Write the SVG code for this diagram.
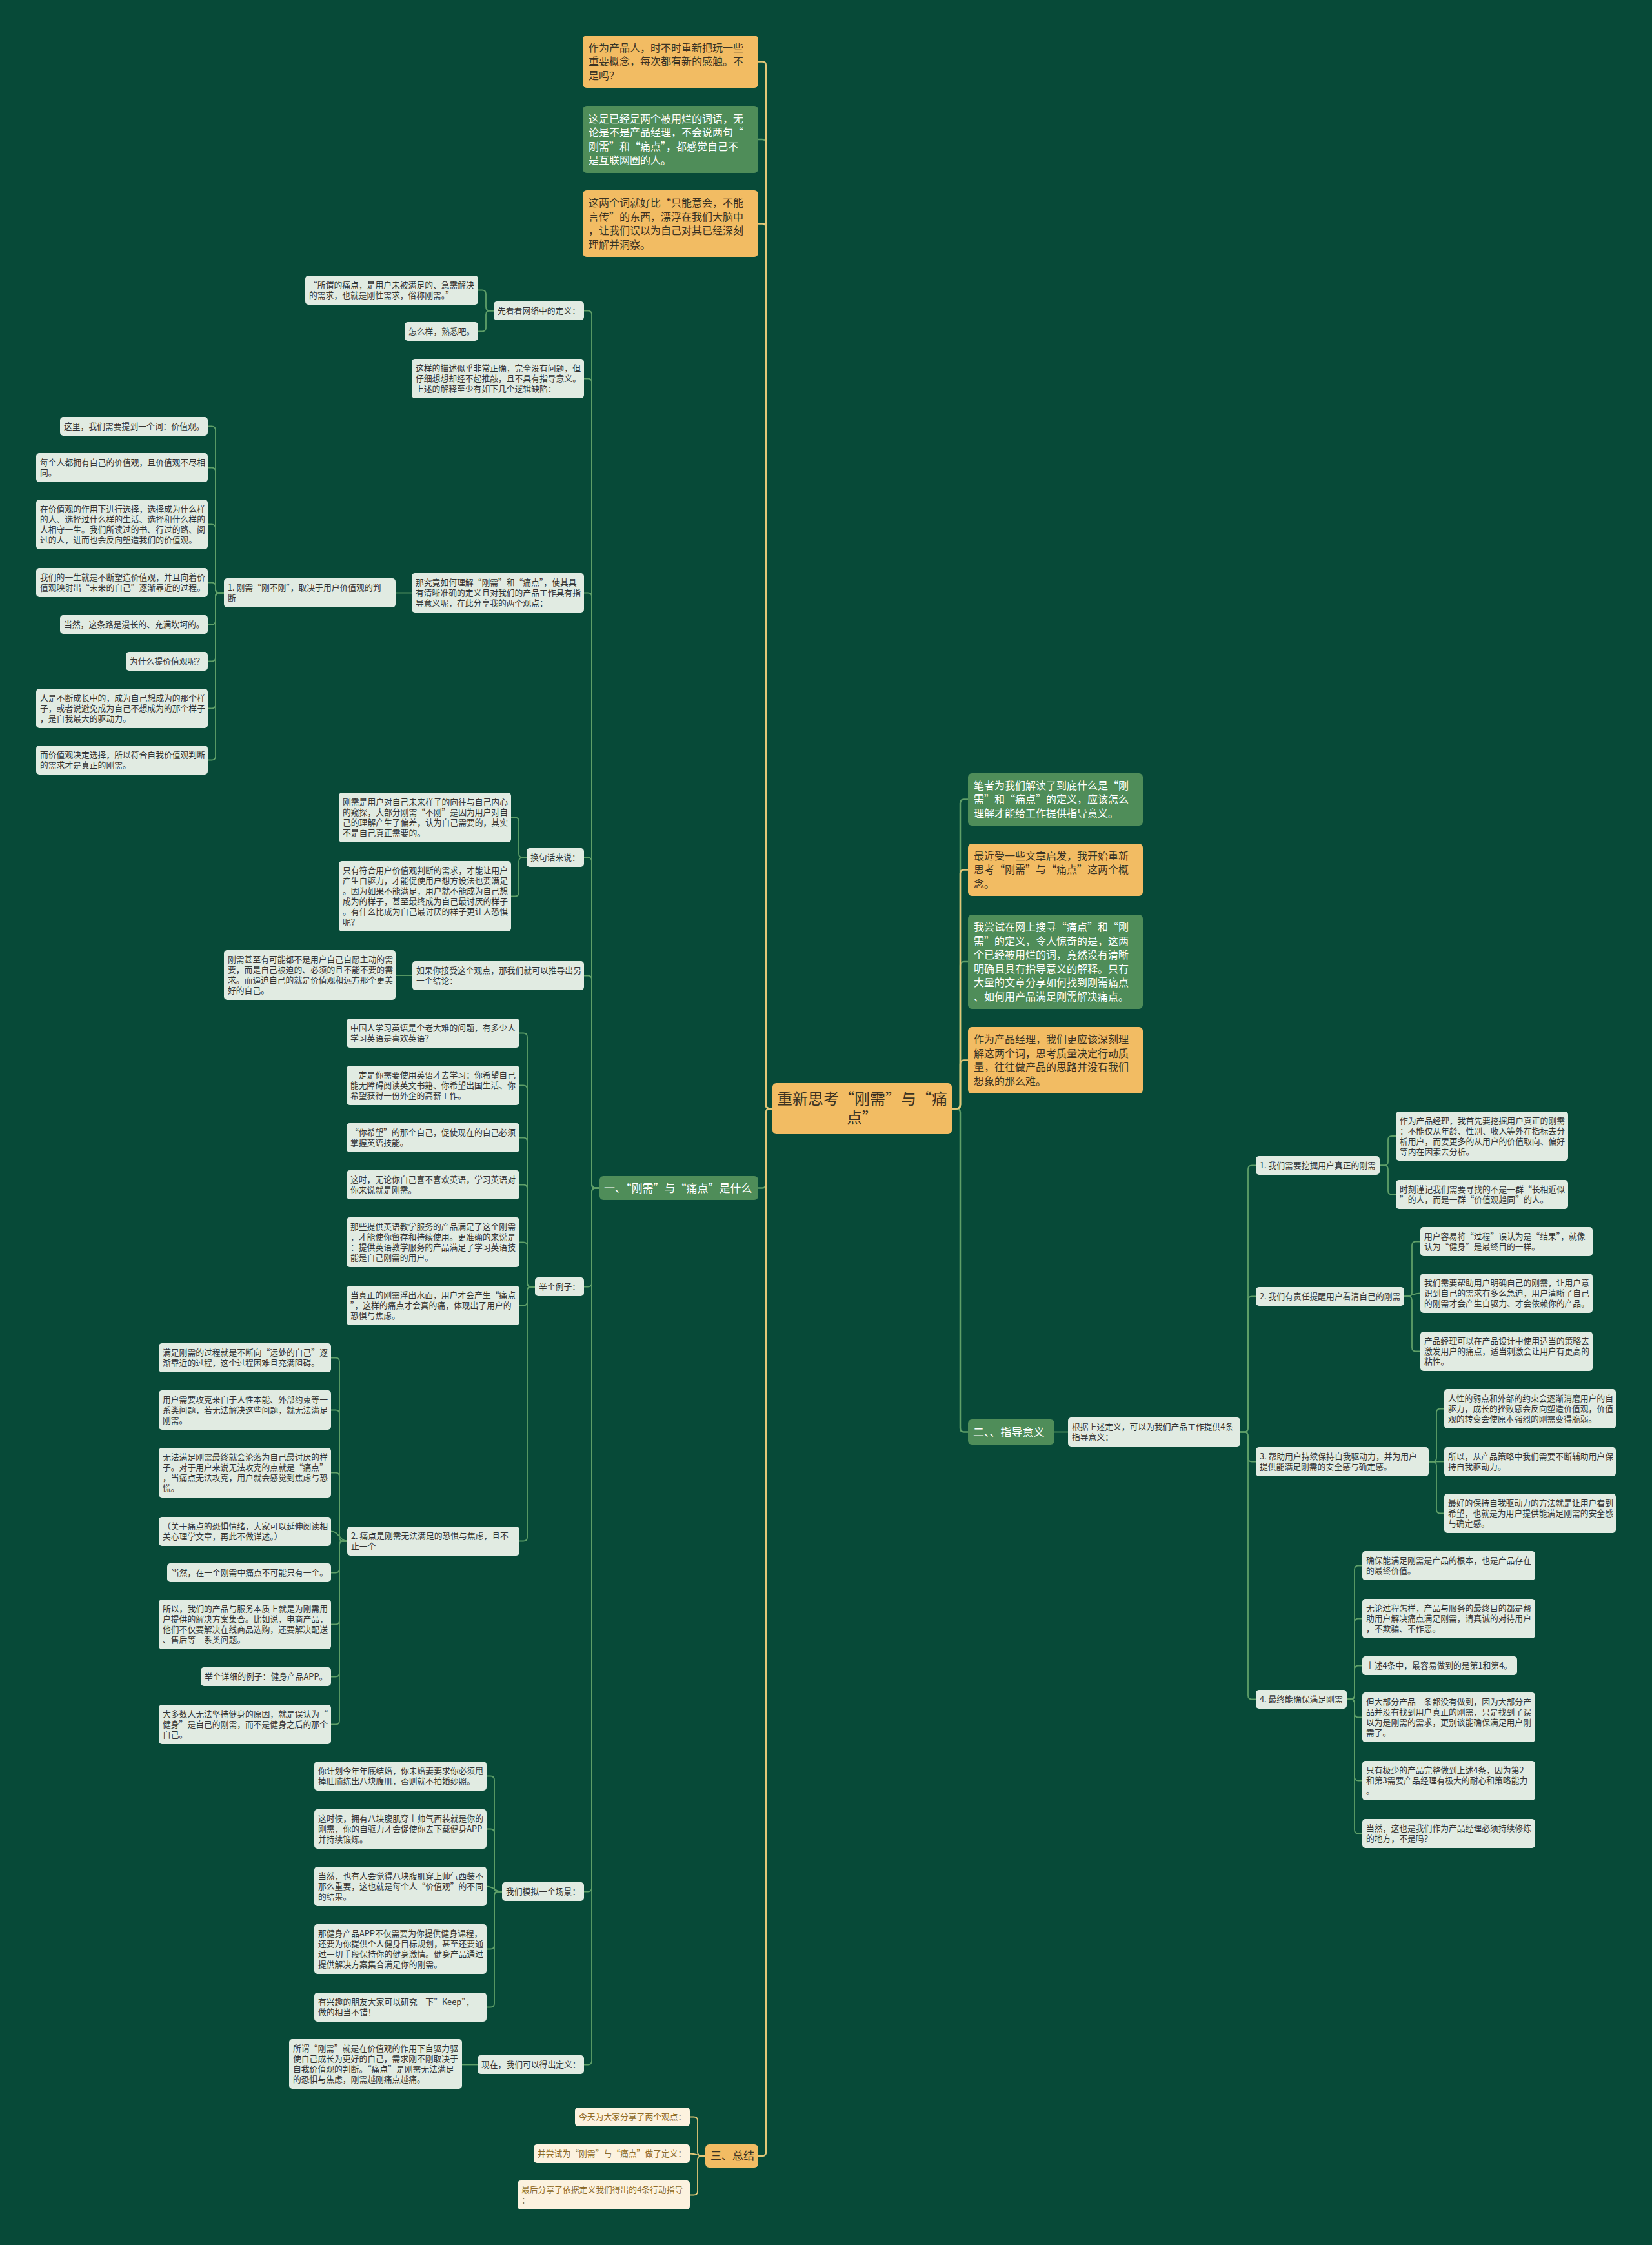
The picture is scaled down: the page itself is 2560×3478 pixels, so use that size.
<svg xmlns="http://www.w3.org/2000/svg" width="2560" height="3478" viewBox="0 0 2560 3478">
<style>
text{font-family:"Noto Sans CJK SC","Noto Sans",sans-serif}
.lt rect{fill:#e1ebe2}
.lt text{fill:#333;font-size:12.8px}
.gr rect{fill:#4f8d59}
.gr text{fill:#fff;font-size:16px}
.or rect{fill:#f2bc63}
.or text{fill:#3b3323;font-size:16px}
.cr rect{fill:#fcf2df}
.cr text{fill:#8e6a26;font-size:12.8px}
.l1 text{font-size:17px}
.ct text{font-size:24px}
.cg path{fill:none;stroke:#5f9f68;stroke-width:1.8}
.cy path{fill:none;stroke:#e2c777;stroke-width:1.8}
.main path{stroke-width:2.5}
</style>
<rect width="2560" height="3478" fill="#074a38"/>

<g id="connectors">
<g class="cg main">
<path d="M1197 1717.5 H1193 Q1187 1717.5 1187 1711.5 V222 Q1187 216 1181 216 H1175"/>
<path d="M1197 1717.5 H1193 Q1187 1717.5 1187 1723.5 V1834.5 Q1187 1840.5 1181 1840.5 H1175"/>
<path d="M1475 1717.5 H1482 Q1488 1717.5 1488 1711.5 V1244.5 Q1488 1238.5 1494 1238.5 H1500"/>
<path d="M1475 1717.5 H1482 Q1488 1717.5 1488 1711.5 V1496 Q1488 1490 1494 1490 H1500"/>
<path d="M1475 1717.5 H1482 Q1488 1717.5 1488 1723.5 V2212.5 Q1488 2218.5 1494 2218.5 H1500"/>
</g>
<g class="cy main">
<path d="M1197 1717.5 H1193 Q1187 1717.5 1187 1711.5 V101.5 Q1187 95.5 1181 95.5 H1175"/>
<path d="M1197 1717.5 H1193 Q1187 1717.5 1187 1711.5 V352.5 Q1187 346.5 1181 346.5 H1175"/>
<path d="M1197 1717.5 H1193 Q1187 1717.5 1187 1723.5 V3334 Q1187 3340 1181 3340 H1175"/>
<path d="M1475 1717.5 H1482 Q1488 1717.5 1488 1711.5 V1353.5 Q1488 1347.5 1494 1347.5 H1500"/>
<path d="M1475 1717.5 H1482 Q1488 1717.5 1488 1711.5 V1648.5 Q1488 1642.5 1494 1642.5 H1500"/>
</g>
<g class="cg">
<path d="M1634 2218.5 H1655"/>
<path d="M1922 2218.5 H1928 Q1934 2218.5 1934 2212.5 V1811.5 Q1934 1805.5 1940 1805.5 H1946"/>
<path d="M1922 2218.5 H1928 Q1934 2218.5 1934 2212.5 V2014.5 Q1934 2008.5 1940 2008.5 H1946"/>
<path d="M1922 2218.5 H1928 Q1934 2218.5 1934 2224.5 V2258.5 Q1934 2264.5 1940 2264.5 H1946"/>
<path d="M1922 2218.5 H1928 Q1934 2218.5 1934 2224.5 V2626.5 Q1934 2632.5 1940 2632.5 H1946"/>
<path d="M2138 1805.5 H2145 Q2151 1805.5 2151 1799.5 V1766 Q2151 1760 2157 1760 H2163"/>
<path d="M2138 1805.5 H2145 Q2151 1805.5 2151 1811.5 V1844.5 Q2151 1850.5 2157 1850.5 H2163"/>
<path d="M2176 2008.5 H2182 Q2188 2008.5 2188 2002.5 V1929.5 Q2188 1923.5 2194 1923.5 H2201"/>
<path d="M2176 2008.5 C2188 2008.5 2188 2003.5 2201 2003.5"/>
<path d="M2176 2008.5 H2182 Q2188 2008.5 2188 2014.5 V2087.5 Q2188 2093.5 2194 2093.5 H2201"/>
<path d="M2214 2264.5 H2220 Q2226 2264.5 2226 2258.5 V2188.5 Q2226 2182.5 2232 2182.5 H2238"/>
<path d="M2214 2264.5 H2238"/>
<path d="M2214 2264.5 H2220 Q2226 2264.5 2226 2270.5 V2338.5 Q2226 2344.5 2232 2344.5 H2238"/>
<path d="M2087 2632.5 H2093 Q2099 2632.5 2099 2626.5 V2431.5 Q2099 2425.5 2105 2425.5 H2111"/>
<path d="M2087 2632.5 H2093 Q2099 2632.5 2099 2626.5 V2513.5 Q2099 2507.5 2105 2507.5 H2111"/>
<path d="M2087 2632.5 H2093 Q2099 2632.5 2099 2626.5 V2586.5 Q2099 2580.5 2105 2580.5 H2111"/>
<path d="M2087 2632.5 H2093 Q2099 2632.5 2099 2638.5 V2654.5 Q2099 2660.5 2105 2660.5 H2111"/>
<path d="M2087 2632.5 H2093 Q2099 2632.5 2099 2638.5 V2752.5 Q2099 2758.5 2105 2758.5 H2111"/>
<path d="M2087 2632.5 H2093 Q2099 2632.5 2099 2638.5 V2834.5 Q2099 2840.5 2105 2840.5 H2111"/>

<path d="M929 1840.5 H923 Q917 1840.5 917 1834.5 V487.5 Q917 481.5 911 481.5 H905"/>
<path d="M929 1840.5 H923 Q917 1840.5 917 1834.5 V592.5 Q917 586.5 911 586.5 H905"/>
<path d="M929 1840.5 H923 Q917 1840.5 917 1834.5 V924.5 Q917 918.5 911 918.5 H905"/>
<path d="M929 1840.5 H923 Q917 1840.5 917 1834.5 V1334.5 Q917 1328.5 911 1328.5 H905"/>
<path d="M929 1840.5 H923 Q917 1840.5 917 1834.5 V1517.5 Q917 1511.5 911 1511.5 H905"/>
<path d="M929 1840.5 H923 Q917 1840.5 917 1846.5 V1987.5 Q917 1993.5 911 1993.5 H905"/>
<path d="M929 1840.5 H923 Q917 1840.5 917 1846.5 V2924.5 Q917 2930.5 911 2930.5 H905"/>
<path d="M929 1840.5 H923 Q917 1840.5 917 1846.5 V3192.5 Q917 3198.5 911 3198.5 H905"/>

<path d="M765 481.5 H759 Q753 481.5 753 475.5 V455.5 Q753 449.5 747 449.5 H741"/>
<path d="M765 481.5 H759 Q753 481.5 753 487.5 V507.5 Q753 513.5 747 513.5 H741"/>
<path d="M638 918.5 H613"/>
<path d="M347 918.5 H340 Q334 918.5 334 912.5 V666.5 Q334 660.5 328 660.5 H322"/>
<path d="M347 918.5 H340 Q334 918.5 334 912.5 V730.5 Q334 724.5 328 724.5 H322"/>
<path d="M347 918.5 H340 Q334 918.5 334 912.5 V818.5 Q334 812.5 328 812.5 H322"/>
<path d="M347 918.5 H340 Q334 918.5 334 912.5 V908.5 Q334 902.5 328 902.5 H322"/>
<path d="M347 918.5 H340 Q334 918.5 334 924.5 V961.5 Q334 967.5 328 967.5 H322"/>
<path d="M347 918.5 H340 Q334 918.5 334 924.5 V1018.5 Q334 1024.5 328 1024.5 H322"/>
<path d="M347 918.5 H340 Q334 918.5 334 924.5 V1091.5 Q334 1097.5 328 1097.5 H322"/>
<path d="M347 918.5 H340 Q334 918.5 334 924.5 V1171.5 Q334 1177.5 328 1177.5 H322"/>
<path d="M816 1328.5 H810 Q804 1328.5 804 1322.5 V1272.5 Q804 1266.5 798 1266.5 H792"/>
<path d="M816 1328.5 H810 Q804 1328.5 804 1334.5 V1382.5 Q804 1388.5 798 1388.5 H792"/>
<path d="M639 1511 H613"/>
<path d="M829 1993.5 H823 Q817 1993.5 817 1987.5 V1606.5 Q817 1600.5 811 1600.5 H805"/>
<path d="M829 1993.5 H823 Q817 1993.5 817 1987.5 V1687.5 Q817 1681.5 811 1681.5 H805"/>
<path d="M829 1993.5 H823 Q817 1993.5 817 1987.5 V1768.5 Q817 1762.5 811 1762.5 H805"/>
<path d="M829 1993.5 H823 Q817 1993.5 817 1987.5 V1841.5 Q817 1835.5 811 1835.5 H805"/>
<path d="M829 1993.5 H823 Q817 1993.5 817 1987.5 V1930.5 Q817 1924.5 811 1924.5 H805"/>
<path d="M829 1993.5 H823 Q817 1993.5 817 1999.5 V2016.5 Q817 2022.5 811 2022.5 H805"/>
<path d="M829 1993.5 H823 Q817 1993.5 817 1999.5 V2381.5 Q817 2387.5 811 2387.5 H805"/>
<path d="M538 2387.5 H532 Q526 2387.5 526 2381.5 V2109.5 Q526 2103.5 520 2103.5 H513"/>
<path d="M538 2387.5 H532 Q526 2387.5 526 2381.5 V2190.5 Q526 2184.5 520 2184.5 H513"/>
<path d="M538 2387.5 H532 Q526 2387.5 526 2381.5 V2287.5 Q526 2281.5 520 2281.5 H513"/>
<path d="M538 2387.5 C526 2387.5 526 2372.5 513 2372.5"/>
<path d="M538 2387.5 H532 Q526 2387.5 526 2393.5 V2430.5 Q526 2436.5 520 2436.5 H513"/>
<path d="M538 2387.5 H532 Q526 2387.5 526 2393.5 V2510.5 Q526 2516.5 520 2516.5 H513"/>
<path d="M538 2387.5 H532 Q526 2387.5 526 2393.5 V2591.5 Q526 2597.5 520 2597.5 H513"/>
<path d="M538 2387.5 H532 Q526 2387.5 526 2393.5 V2665.5 Q526 2671.5 520 2671.5 H513"/>
<path d="M778 2930.5 H772 Q766 2930.5 766 2924.5 V2757.5 Q766 2751.5 760 2751.5 H754"/>
<path d="M778 2930.5 H772 Q766 2930.5 766 2924.5 V2839.5 Q766 2833.5 760 2833.5 H754"/>
<path d="M778 2930.5 C766 2930.5 766 2922.5 754 2922.5"/>
<path d="M778 2930.5 H772 Q766 2930.5 766 2936.5 V3013.5 Q766 3019.5 760 3019.5 H754"/>
<path d="M778 2930.5 H772 Q766 2930.5 766 2936.5 V3103.5 Q766 3109.5 760 3109.5 H754"/>
<path d="M740 3198.5 H716"/>
</g>
<g class="cy">
<path d="M1093 3340 H1087 Q1081 3340 1081 3334 V3285.5 Q1081 3279.5 1075 3279.5 H1069"/>
<path d="M1093 3340 C1081 3340 1081 3336.5 1069 3336.5"/>
<path d="M1093 3340 H1087 Q1081 3340 1081 3346 V3394.5 Q1081 3400.5 1075 3400.5 H1069"/>
</g>
</g>

<g id="center" class="or ct"><rect x="1197" y="1678" width="278" height="79" rx="6"/><text text-anchor="middle"><tspan x="1336" y="1711">重新思考“刚需”与“痛</tspan><tspan x="1336" y="1740">点”</tspan></text></g>

<g id="a1" class="or"><rect x="903" y="55" width="272" height="81" rx="6"/><text><tspan x="912" y="79.8">作为产品人，时不时重新把玩一些</tspan><tspan x="912" y="101.3">重要概念，每次都有新的感触。不</tspan><tspan x="912" y="122.8">是吗？</tspan></text></g>
<g id="a2" class="gr"><rect x="903" y="164" width="272" height="104" rx="6"/><text><tspan x="912" y="189.6">这是已经是两个被用烂的词语，无</tspan><tspan x="912" y="211.1">论是不是产品经理，不会说两句“</tspan><tspan x="912" y="232.6">刚需”和“痛点”，都感觉自己不</tspan><tspan x="912" y="254.1">是互联网圈的人。</tspan></text></g>
<g id="a3" class="or"><rect x="903" y="295" width="272" height="103" rx="6"/><text><tspan x="912" y="320.1">这两个词就好比“只能意会，不能</tspan><tspan x="912" y="341.6">言传”的东西，漂浮在我们大脑中</tspan><tspan x="912" y="363.1">，让我们误以为自己对其已经深刻</tspan><tspan x="912" y="384.6">理解并洞察。</tspan></text></g>

<g id="r1" class="gr"><rect x="1500" y="1198" width="271" height="81" rx="6"/><text><tspan x="1509" y="1222.8">笔者为我们解读了到底什么是“刚</tspan><tspan x="1509" y="1244.3">需”和“痛点”的定义，应该怎么</tspan><tspan x="1509" y="1265.8">理解才能给工作提供指导意义。</tspan></text></g>
<g id="r2" class="or"><rect x="1500" y="1307" width="271" height="81" rx="6"/><text><tspan x="1509" y="1331.8">最近受一些文章启发，我开始重新</tspan><tspan x="1509" y="1353.3">思考“刚需”与“痛点”这两个概</tspan><tspan x="1509" y="1374.8">念。</tspan></text></g>
<g id="r3" class="gr"><rect x="1500" y="1417" width="271" height="146" rx="6"/><text><tspan x="1509" y="1442">我尝试在网上搜寻“痛点”和“刚</tspan><tspan x="1509" y="1463.5">需”的定义，令人惊奇的是，这两</tspan><tspan x="1509" y="1485">个已经被用烂的词，竟然没有清晰</tspan><tspan x="1509" y="1506.5">明确且具有指导意义的解释。只有</tspan><tspan x="1509" y="1528">大量的文章分享如何找到刚需痛点</tspan><tspan x="1509" y="1549.5">、如何用产品满足刚需解决痛点。</tspan></text></g>
<g id="r4" class="or"><rect x="1500" y="1591" width="271" height="103" rx="6"/><text><tspan x="1509" y="1616.1">作为产品经理，我们更应该深刻理</tspan><tspan x="1509" y="1637.6">解这两个词，思考质量决定行动质</tspan><tspan x="1509" y="1659.1">量，往往做产品的思路并没有我们</tspan><tspan x="1509" y="1680.6">想象的那么难。</tspan></text></g>

<g id="s2" class="gr l1"><rect x="1500" y="2199" width="134" height="39" rx="6"/><text x="1508" y="2224.5">二、、指导意义</text></g>
<g id="s2a" class="lt"><rect x="1655" y="2196" width="267" height="45" rx="5"/><text><tspan x="1661" y="2215.1">根据上述定义，可以为我们产品工作提供4条</tspan><tspan x="1661" y="2231.1">指导意义：</tspan></text></g>
<g id="g1" class="lt"><rect x="1946" y="1791" width="192" height="29" rx="5"/><text x="1952" y="1810.1">1. 我们需要挖掘用户真正的刚需</text></g>
<g id="g1a" class="lt"><rect x="2163" y="1722" width="267" height="76" rx="5"/><text><tspan x="2169" y="1740.6">作为产品经理，我首先要挖掘用户真正的刚需</tspan><tspan x="2169" y="1756.6">：不能仅从年龄、性别、收入等外在指标去分</tspan><tspan x="2169" y="1772.6">析用户，而要更多的从用户的价值取向、偏好</tspan><tspan x="2169" y="1788.6">等内在因素去分析。</tspan></text></g>
<g id="g1b" class="lt"><rect x="2163" y="1828" width="267" height="45" rx="5"/><text><tspan x="2169" y="1847.1">时刻谨记我们需要寻找的不是一群“长相近似</tspan><tspan x="2169" y="1863.1">”的人，而是一群“价值观趋同”的人。</tspan></text></g>
<g id="g2" class="lt"><rect x="1946" y="1994" width="230" height="29" rx="5"/><text x="1952" y="2013.1">2. 我们有责任提醒用户看清自己的刚需</text></g>
<g id="g2a" class="lt"><rect x="2201" y="1901" width="267" height="45" rx="5"/><text><tspan x="2207" y="1920.1">用户容易将“过程”误认为是“结果”，就像</tspan><tspan x="2207" y="1936.1">认为“健身”是最终目的一样。</tspan></text></g>
<g id="g2b" class="lt"><rect x="2201" y="1973" width="267" height="61" rx="5"/><text><tspan x="2207" y="1992.1">我们需要帮助用户明确自己的刚需，让用户意</tspan><tspan x="2207" y="2008.1">识到自己的需求有多么急迫，用户清晰了自己</tspan><tspan x="2207" y="2024.1">的刚需才会产生自驱力、才会依赖你的产品。</tspan></text></g>
<g id="g2c" class="lt"><rect x="2201" y="2063" width="267" height="61" rx="5"/><text><tspan x="2207" y="2082.1">产品经理可以在产品设计中使用适当的策略去</tspan><tspan x="2207" y="2098.1">激发用户的痛点，适当刺激会让用户有更高的</tspan><tspan x="2207" y="2114.1">粘性。</tspan></text></g>
<g id="g3" class="lt"><rect x="1946" y="2242" width="268" height="45" rx="5"/><text><tspan x="1952" y="2261.1">3. 帮助用户持续保持自我驱动力，并为用户</tspan><tspan x="1952" y="2277.1">提供能满足刚需的安全感与确定感。</tspan></text></g>
<g id="g3a" class="lt"><rect x="2238" y="2152" width="266" height="61" rx="5"/><text><tspan x="2244" y="2171.1">人性的弱点和外部的约束会逐渐消磨用户的自</tspan><tspan x="2244" y="2187.1">驱力，成长的挫败感会反向塑造价值观，价值</tspan><tspan x="2244" y="2203.1">观的转变会使原本强烈的刚需变得脆弱。</tspan></text></g>
<g id="g3b" class="lt"><rect x="2238" y="2242" width="266" height="45" rx="5"/><text><tspan x="2244" y="2261.1">所以，从产品策略中我们需要不断辅助用户保</tspan><tspan x="2244" y="2277.1">持自我驱动力。</tspan></text></g>
<g id="g3c" class="lt"><rect x="2238" y="2314" width="266" height="61" rx="5"/><text><tspan x="2244" y="2333.1">最好的保持自我驱动力的方法就是让用户看到</tspan><tspan x="2244" y="2349.1">希望，也就是为用户提供能满足刚需的安全感</tspan><tspan x="2244" y="2365.1">与确定感。</tspan></text></g>
<g id="g4" class="lt"><rect x="1946" y="2618" width="141" height="29" rx="5"/><text x="1952" y="2637.1">4. 最终能确保满足刚需</text></g>
<g id="g4a" class="lt"><rect x="2111" y="2403" width="268" height="45" rx="5"/><text><tspan x="2117" y="2422.1">确保能满足刚需是产品的根本，也是产品存在</tspan><tspan x="2117" y="2438.1">的最终价值。</tspan></text></g>
<g id="g4b" class="lt"><rect x="2111" y="2477" width="268" height="61" rx="5"/><text><tspan x="2117" y="2496.1">无论过程怎样，产品与服务的最终目的都是帮</tspan><tspan x="2117" y="2512.1">助用户解决痛点满足刚需，请真诚的对待用户</tspan><tspan x="2117" y="2528.1">，不欺骗、不作恶。</tspan></text></g>
<g id="g4c" class="lt"><rect x="2111" y="2566" width="240" height="29" rx="5"/><text x="2117" y="2585.1">上述4条中，最容易做到的是第1和第4。</text></g>
<g id="g4d" class="lt"><rect x="2111" y="2622" width="268" height="77" rx="5"/><text><tspan x="2117" y="2641.1">但大部分产品一条都没有做到，因为大部分产</tspan><tspan x="2117" y="2657.1">品并没有找到用户真正的刚需，只是找到了误</tspan><tspan x="2117" y="2673.1">以为是刚需的需求，更别谈能确保满足用户刚</tspan><tspan x="2117" y="2689.1">需了。</tspan></text></g>
<g id="g4e" class="lt"><rect x="2111" y="2728" width="268" height="61" rx="5"/><text><tspan x="2117" y="2747.1">只有极少的产品完整做到上述4条，因为第2</tspan><tspan x="2117" y="2763.1">和第3需要产品经理有极大的耐心和策略能力</tspan><tspan x="2117" y="2779.1">。</tspan></text></g>
<g id="g4f" class="lt"><rect x="2111" y="2818" width="268" height="45" rx="5"/><text><tspan x="2117" y="2837.1">当然，这也是我们作为产品经理必须持续修炼</tspan><tspan x="2117" y="2853.1">的地方，不是吗？</tspan></text></g>

<g id="s1" class="gr l1"><rect x="929" y="1822" width="246" height="37" rx="6"/><text x="936" y="1846.5">一、“刚需”与“痛点”是什么</text></g>
<g id="d1" class="lt"><rect x="765" y="467" width="140" height="29" rx="5"/><text x="771" y="486.1">先看看网络中的定义：</text></g>
<g id="d1a" class="lt"><rect x="473" y="427" width="268" height="45" rx="5"/><text><tspan x="479" y="446.1">“所谓的痛点，是用户未被满足的、急需解决</tspan><tspan x="479" y="462.1">的需求，也就是刚性需求，俗称刚需。”</tspan></text></g>
<g id="d1b" class="lt"><rect x="627" y="499" width="114" height="29" rx="5"/><text x="633" y="518.1">怎么样，熟悉吧。</text></g>
<g id="d2" class="lt"><rect x="638" y="556" width="267" height="61" rx="5"/><text><tspan x="644" y="575.1">这样的描述似乎非常正确，完全没有问题，但</tspan><tspan x="644" y="591.1">仔细想想却经不起推敲，且不具有指导意义。</tspan><tspan x="644" y="607.1">上述的解释至少有如下几个逻辑缺陷：</tspan></text></g>
<g id="d3" class="lt"><rect x="638" y="888" width="267" height="61" rx="5"/><text><tspan x="644" y="907.1">那究竟如何理解“刚需”和“痛点”，使其具</tspan><tspan x="644" y="923.1">有清晰准确的定义且对我们的产品工作具有指</tspan><tspan x="644" y="939.1">导意义呢，在此分享我的两个观点：</tspan></text></g>
<g id="p1" class="lt"><rect x="347" y="896" width="266" height="45" rx="5"/><text><tspan x="353" y="915.1">1. 刚需“刚不刚”，取决于用户价值观的判</tspan><tspan x="353" y="931.1">断</tspan></text></g>
<g id="p1a" class="lt"><rect x="93" y="646" width="229" height="29" rx="5"/><text x="99" y="665.1">这里，我们需要提到一个词：价值观。</text></g>
<g id="p1b" class="lt"><rect x="56" y="702" width="266" height="45" rx="5"/><text><tspan x="62" y="721.1">每个人都拥有自己的价值观，且价值观不尽相</tspan><tspan x="62" y="737.1">同。</tspan></text></g>
<g id="p1c" class="lt"><rect x="56" y="774" width="266" height="77" rx="5"/><text><tspan x="62" y="793.1">在价值观的作用下进行选择，选择成为什么样</tspan><tspan x="62" y="809.1">的人、选择过什么样的生活、选择和什么样的</tspan><tspan x="62" y="825.1">人相守一生。我们所读过的书、行过的路、阅</tspan><tspan x="62" y="841.1">过的人，进而也会反向塑造我们的价值观。</tspan></text></g>
<g id="p1d" class="lt"><rect x="56" y="880" width="266" height="45" rx="5"/><text><tspan x="62" y="899.1">我们的一生就是不断塑造价值观，并且向着价</tspan><tspan x="62" y="915.1">值观映射出“未来的自己”逐渐靠近的过程。</tspan></text></g>
<g id="p1e" class="lt"><rect x="93" y="953" width="229" height="29" rx="5"/><text x="99" y="972.1">当然，这条路是漫长的、充满坎坷的。</text></g>
<g id="p1f" class="lt"><rect x="195" y="1010" width="127" height="29" rx="5"/><text x="201" y="1029.1">为什么提价值观呢？</text></g>
<g id="p1g" class="lt"><rect x="56" y="1067" width="266" height="61" rx="5"/><text><tspan x="62" y="1086.1">人是不断成长中的，成为自己想成为的那个样</tspan><tspan x="62" y="1102.1">子，或者说避免成为自己不想成为的那个样子</tspan><tspan x="62" y="1118.1">，是自我最大的驱动力。</tspan></text></g>
<g id="p1h" class="lt"><rect x="56" y="1155" width="266" height="45" rx="5"/><text><tspan x="62" y="1174.1">而价值观决定选择，所以符合自我价值观判断</tspan><tspan x="62" y="1190.1">的需求才是真正的刚需。</tspan></text></g>
<g id="d4" class="lt"><rect x="816" y="1314" width="89" height="29" rx="5"/><text x="822" y="1333.1">换句话来说：</text></g>
<g id="d4a" class="lt"><rect x="525" y="1228" width="267" height="77" rx="5"/><text><tspan x="531" y="1247.1">刚需是用户对自己未来样子的向往与自己内心</tspan><tspan x="531" y="1263.1">的窥探，大部分刚需“不刚”是因为用户对自</tspan><tspan x="531" y="1279.1">己的理解产生了偏差，认为自己需要的，其实</tspan><tspan x="531" y="1295.1">不是自己真正需要的。</tspan></text></g>
<g id="d4b" class="lt"><rect x="525" y="1334" width="267" height="109" rx="5"/><text><tspan x="531" y="1353.1">只有符合用户价值观判断的需求，才能让用户</tspan><tspan x="531" y="1369.1">产生自驱力，才能促使用户想方设法也要满足</tspan><tspan x="531" y="1385.1">。因为如果不能满足，用户就不能成为自己想</tspan><tspan x="531" y="1401.1">成为的样子，甚至最终成为自己最讨厌的样子</tspan><tspan x="531" y="1417.1">。有什么比成为自己最讨厌的样子更让人恐惧</tspan><tspan x="531" y="1433.1">呢？</tspan></text></g>
<g id="d5" class="lt"><rect x="639" y="1489" width="266" height="45" rx="5"/><text><tspan x="645" y="1508.1">如果你接受这个观点，那我们就可以推导出另</tspan><tspan x="645" y="1524.1">一个结论：</tspan></text></g>
<g id="d5a" class="lt"><rect x="347" y="1472" width="266" height="77" rx="5"/><text><tspan x="353" y="1491.1">刚需甚至有可能都不是用户自己自愿主动的需</tspan><tspan x="353" y="1507.1">要，而是自己被迫的、必须的且不能不要的需</tspan><tspan x="353" y="1523.1">求。而逼迫自己的就是价值观和远方那个更美</tspan><tspan x="353" y="1539.1">好的自己。</tspan></text></g>
<g id="d6" class="lt"><rect x="829" y="1979" width="76" height="29" rx="5"/><text x="835" y="1998.1">举个例子：</text></g>
<g id="d6a" class="lt"><rect x="537" y="1578" width="268" height="45" rx="5"/><text><tspan x="543" y="1597.1">中国人学习英语是个老大难的问题，有多少人</tspan><tspan x="543" y="1613.1">学习英语是喜欢英语？</tspan></text></g>
<g id="d6b" class="lt"><rect x="537" y="1651" width="268" height="61" rx="5"/><text><tspan x="543" y="1670.1">一定是你需要使用英语才去学习：你希望自己</tspan><tspan x="543" y="1686.1">能无障碍阅读英文书籍、你希望出国生活、你</tspan><tspan x="543" y="1702.1">希望获得一份外企的高薪工作。</tspan></text></g>
<g id="d6c" class="lt"><rect x="537" y="1740" width="268" height="45" rx="5"/><text><tspan x="543" y="1759.1">“你希望”的那个自己，促使现在的自己必须</tspan><tspan x="543" y="1775.1">掌握英语技能。</tspan></text></g>
<g id="d6d" class="lt"><rect x="537" y="1813" width="268" height="45" rx="5"/><text><tspan x="543" y="1832.1">这时，无论你自己喜不喜欢英语，学习英语对</tspan><tspan x="543" y="1848.1">你来说就是刚需。</tspan></text></g>
<g id="d6e" class="lt"><rect x="537" y="1886" width="268" height="77" rx="5"/><text><tspan x="543" y="1905.1">那些提供英语教学服务的产品满足了这个刚需</tspan><tspan x="543" y="1921.1">，才能使你留存和持续使用。更准确的来说是</tspan><tspan x="543" y="1937.1">：提供英语教学服务的产品满足了学习英语技</tspan><tspan x="543" y="1953.1">能是自己刚需的用户。</tspan></text></g>
<g id="d6f" class="lt"><rect x="537" y="1992" width="268" height="61" rx="5"/><text><tspan x="543" y="2011.1">当真正的刚需浮出水面，用户才会产生“痛点</tspan><tspan x="543" y="2027.1">”，这样的痛点才会真的痛，体现出了用户的</tspan><tspan x="543" y="2043.1">恐惧与焦虑。</tspan></text></g>
<g id="p2" class="lt"><rect x="538" y="2365" width="267" height="45" rx="5"/><text><tspan x="544" y="2384.1">2. 痛点是刚需无法满足的恐惧与焦虑，且不</tspan><tspan x="544" y="2400.1">止一个</tspan></text></g>
<g id="p2a" class="lt"><rect x="246" y="2081" width="267" height="45" rx="5"/><text><tspan x="252" y="2100.1">满足刚需的过程就是不断向“远处的自己”逐</tspan><tspan x="252" y="2116.1">渐靠近的过程，这个过程困难且充满阻碍。</tspan></text></g>
<g id="p2b" class="lt"><rect x="246" y="2154" width="267" height="61" rx="5"/><text><tspan x="252" y="2173.1">用户需要攻克来自于人性本能、外部约束等一</tspan><tspan x="252" y="2189.1">系类问题，若无法解决这些问题，就无法满足</tspan><tspan x="252" y="2205.1">刚需。</tspan></text></g>
<g id="p2c" class="lt"><rect x="246" y="2243" width="267" height="77" rx="5"/><text><tspan x="252" y="2262.1">无法满足刚需最终就会沦落为自己最讨厌的样</tspan><tspan x="252" y="2278.1">子。对于用户来说无法攻克的点就是“痛点”</tspan><tspan x="252" y="2294.1">，当痛点无法攻克，用户就会感觉到焦虑与恐</tspan><tspan x="252" y="2310.1">慌。</tspan></text></g>
<g id="p2d" class="lt"><rect x="246" y="2350" width="267" height="45" rx="5"/><text><tspan x="252" y="2369.1">（关于痛点的恐惧情绪，大家可以延伸阅读相</tspan><tspan x="252" y="2385.1">关心理学文章，再此不做详述。）</tspan></text></g>
<g id="p2e" class="lt"><rect x="259" y="2422" width="254" height="29" rx="5"/><text x="265" y="2441.1">当然，在一个刚需中痛点不可能只有一个。</text></g>
<g id="p2f" class="lt"><rect x="246" y="2478" width="267" height="77" rx="5"/><text><tspan x="252" y="2497.1">所以，我们的产品与服务本质上就是为刚需用</tspan><tspan x="252" y="2513.1">户提供的解决方案集合。比如说，电商产品，</tspan><tspan x="252" y="2529.1">他们不仅要解决在线商品选购，还要解决配送</tspan><tspan x="252" y="2545.1">、售后等一系类问题。</tspan></text></g>
<g id="p2g" class="lt"><rect x="311" y="2583" width="202" height="29" rx="5"/><text x="317" y="2602.1">举个详细的例子：健身产品APP。</text></g>
<g id="p2h" class="lt"><rect x="246" y="2641" width="267" height="61" rx="5"/><text><tspan x="252" y="2660.1">大多数人无法坚持健身的原因，就是误认为“</tspan><tspan x="252" y="2676.1">健身”是自己的刚需，而不是健身之后的那个</tspan><tspan x="252" y="2692.1">自己。</tspan></text></g>
<g id="d7" class="lt"><rect x="778" y="2916" width="127" height="29" rx="5"/><text x="784" y="2935.1">我们模拟一个场景：</text></g>
<g id="d7a" class="lt"><rect x="487" y="2729" width="267" height="45" rx="5"/><text><tspan x="493" y="2748.1">你计划今年年底结婚，你未婚妻要求你必须甩</tspan><tspan x="493" y="2764.1">掉肚腩练出八块腹肌，否则就不拍婚纱照。</tspan></text></g>
<g id="d7b" class="lt"><rect x="487" y="2803" width="267" height="61" rx="5"/><text><tspan x="493" y="2822.1">这时候，拥有八块腹肌穿上帅气西装就是你的</tspan><tspan x="493" y="2838.1">刚需，你的自驱力才会促使你去下载健身APP</tspan><tspan x="493" y="2854.1">并持续锻炼。</tspan></text></g>
<g id="d7c" class="lt"><rect x="487" y="2892" width="267" height="61" rx="5"/><text><tspan x="493" y="2911.1">当然，也有人会觉得八块腹肌穿上帅气西装不</tspan><tspan x="493" y="2927.1">那么重要，这也就是每个人“价值观”的不同</tspan><tspan x="493" y="2943.1">的结果。</tspan></text></g>
<g id="d7d" class="lt"><rect x="487" y="2981" width="267" height="77" rx="5"/><text><tspan x="493" y="3000.1">那健身产品APP不仅需要为你提供健身课程，</tspan><tspan x="493" y="3016.1">还要为你提供个人健身目标规划，甚至还要通</tspan><tspan x="493" y="3032.1">过一切手段保持你的健身激情。健身产品通过</tspan><tspan x="493" y="3048.1">提供解决方案集合满足你的刚需。</tspan></text></g>
<g id="d7e" class="lt"><rect x="487" y="3087" width="267" height="45" rx="5"/><text><tspan x="493" y="3106.1">有兴趣的朋友大家可以研究一下”Keep”，</tspan><tspan x="493" y="3122.1">做的相当不错！</tspan></text></g>
<g id="d8" class="lt"><rect x="740" y="3184" width="165" height="29" rx="5"/><text x="746" y="3203.1">现在，我们可以得出定义：</text></g>
<g id="d8a" class="lt"><rect x="448" y="3159" width="268" height="77" rx="5"/><text><tspan x="454" y="3178.1">所谓“刚需”就是在价值观的作用下自驱力驱</tspan><tspan x="454" y="3194.1">使自己成长为更好的自己，需求刚不刚取决于</tspan><tspan x="454" y="3210.1">自我价值观的判断。“痛点”是刚需无法满足</tspan><tspan x="454" y="3226.1">的恐惧与焦虑，刚需越刚痛点越痛。</tspan></text></g>

<g id="s3" class="or l1"><rect x="1093" y="3322" width="82" height="36" rx="6"/><text x="1101" y="3346">三、总结</text></g>
<g id="s3a" class="cr"><rect x="891" y="3265" width="178" height="29" rx="5"/><text x="897" y="3284.1">今天为大家分享了两个观点：</text></g>
<g id="s3b" class="cr"><rect x="827" y="3322" width="242" height="29" rx="5"/><text x="833" y="3341.1">并尝试为“刚需”与“痛点”做了定义：</text></g>
<g id="s3c" class="cr"><rect x="802" y="3378" width="267" height="45" rx="5"/><text><tspan x="808" y="3397.1">最后分享了依据定义我们得出的4条行动指导</tspan><tspan x="808" y="3413.1">：</tspan></text></g>
</svg>
